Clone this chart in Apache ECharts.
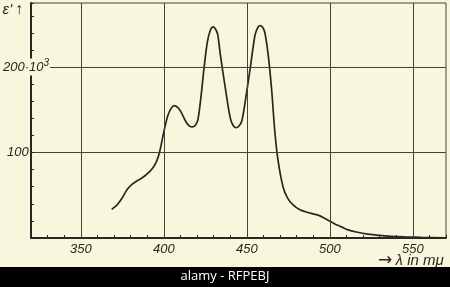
<!DOCTYPE html>
<html>
<head>
<meta charset="utf-8">
<script src="https://cdn.jsdelivr.net/npm/echarts@6/dist/echarts.min.js"></script>
<style>
html,body{margin:0;padding:0;background:#f8f6dc;}
#chart{width:450px;height:287px;}
</style>
</head>
<body>
<div id="chart"></div>
<script>
const wavelength = [368.6, 372, 375, 378, 381, 384, 387, 390, 393, 395.5, 397.5, 400, 402.4, 404.5, 406.3, 408.5, 410.5, 413.3, 415.5, 417.3, 419, 420.5, 422.2, 424.2, 426.2, 428.2, 429.8, 431.3, 432.5, 434.1, 437.1, 440.1, 442, 443.6, 445.3, 447, 449, 452, 454.9, 456.5, 457.9, 459.5, 460.9, 462.9, 464.9, 466.9, 468.8, 471.8, 474.5, 477.7, 482, 487.3, 490.5, 493.3, 496, 499.2, 503, 507.1, 511, 516, 523, 530, 537, 545, 555, 570];
const epsilon = [33.5, 39, 47, 57, 63, 67, 70.5, 75, 81, 89, 101, 124, 143, 152, 155, 152.5, 147, 136, 131, 130, 132, 138, 162, 198, 229, 244, 247, 244, 238, 214, 175, 140, 131, 129, 131, 137, 159, 198, 237, 246, 248.5, 246.5, 240, 214, 175, 124, 91, 60, 47, 39, 33, 29.5, 28, 26.5, 24, 20.5, 16.5, 13, 9.5, 7, 4.5, 3, 2, 1.3, 0.7, 0.3];
const xTickLabels = [350, 400, 450, 500, 550];
const yTickLabels = [100, 200];
const xGridLines = [350, 400, 450, 500, 550];
const yGridLines = [100, 200];

const ink = '#2e2520';
const paper = '#f8f6dc';
const font = 'Liberation Sans';
const chart = echarts.init(document.getElementById('chart'), null, {renderer: 'canvas'});
const markData = xGridLines.map(v => ({xAxis: v})).concat(yGridLines.map(v => ({yAxis: v})));

chart.setOption({
  animation: false,
  backgroundColor: paper,
  grid: {left: 31, right: 4, top: 3, bottom: 49, show: true, borderColor: '#4a403a', borderWidth: 1, outerBoundsMode: 'none', containLabel: false},
  xAxis: {
    type: 'value', min: 320, max: 570, interval: 10,
    axisLine: {show: true, lineStyle: {color: ink, width: 1.8}},
    axisTick: {show: true, inside: true, length: 3, lineStyle: {color: ink, width: 1}},
    splitLine: {show: false},
    axisLabel: {
      margin: 5, color: ink, fontSize: 13, fontStyle: 'italic', fontFamily: font,
      formatter: v => xTickLabels.includes(v) ? String(v) : ''
    }
  },
  yAxis: {
    type: 'value', min: 0, max: 275, interval: 20, z: 10,
    axisLine: {show: true, lineStyle: {color: ink, width: 2}},
    axisTick: {show: true, inside: true, length: 3, lineStyle: {color: ink, width: 1}},
    splitLine: {show: false},
    axisLabel: {
      align: 'left', margin: 28, color: ink, fontSize: 13, fontStyle: 'italic', fontFamily: font,
      formatter: v => {
        if (!yTickLabels.includes(v)) return '';
        if (v === 200) return '{b|200·10}{s|3}';
        return '{n|' + v + '}';
      },
      rich: {
        n: {fontSize: 13, fontStyle: 'italic', color: ink, fontFamily: font, padding: [0, 0, 0, 4], backgroundColor: paper},
        b: {fontSize: 13, fontStyle: 'italic', color: ink, fontFamily: font, backgroundColor: paper, padding: [2, 0, 2, 0]},
        s: {fontSize: 10, fontStyle: 'italic', color: ink, fontFamily: font, backgroundColor: paper, verticalAlign: 'top', padding: [0, 1, 6, 0]}
      }
    },
    name: "{e|ε'}{a|↑}", nameLocation: 'end', nameGap: -7,
    nameTextStyle: {
      color: ink, fontSize: 15, fontStyle: 'italic', fontFamily: font, align: 'right', verticalAlign: 'middle', padding: [0, 8, 0, 0],
      rich: {
        e: {fontSize: 15, fontStyle: 'italic', color: ink, fontFamily: font, padding: [0, 3, 0, 0]},
        a: {fontSize: 16, color: ink, fontFamily: font}
      }
    }
  },
  series: [{
    type: 'line',
    data: wavelength.map((w, i) => [w, epsilon[i]]),
    smooth: 0.3,
    showSymbol: false,
    lineStyle: {color: ink, width: 1.7},
    markLine: {
      silent: true, symbol: ['none', 'none'], label: {show: false},
      lineStyle: {color: '#4a403a', width: 1, type: 'solid'},
      emphasis: {disabled: true},
      data: markData
    }
  }],
  graphic: [
    {type: 'text', left: 378, top: 252, style: {
      text: '{a|→} {t|λ in mμ}',
      rich: {
        a: {fontSize: 17, fill: ink, fontFamily: 'DejaVu Sans'},
        t: {fontSize: 15, fontStyle: 'italic', fill: ink, fontFamily: font}
      }
    }, z: 50},
    {type: 'rect', left: 0, top: 267, shape: {width: 450, height: 20}, style: {fill: '#000'}, z: 100},
    {type: 'text', left: 'center', top: 270, style: {text: 'alamy - RFPEBJ', fill: '#fff', fontSize: 13, fontFamily: 'Open Sans'}, z: 101}
  ]
});
</script>
</body>
</html>
